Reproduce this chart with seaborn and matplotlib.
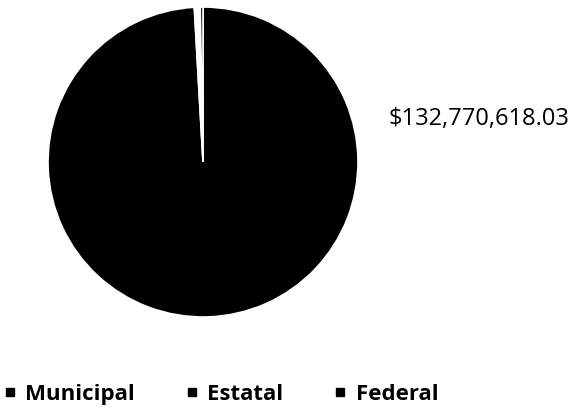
import matplotlib
matplotlib.use("Agg")
import matplotlib.pyplot as plt
import seaborn as sns
from matplotlib.lines import Line2D

# Data
categories = ["Municipal", "Estatal", "Federal"]
amounts = [132770618.03, 820000.0, 380000.0]
slice_colors = ["black", "white", "black"]
label_text = "$132,770,618.03"

sns.set_theme(style="white")
plt.rcParams["font.family"] = ["Open Sans", "DejaVu Sans"]
plt.rcParams["text.color"] = "black"

fig = plt.figure(figsize=(5.79, 4.14), dpi=100)
ax = fig.add_axes([48 / 579, 1 - 318 / 414, 310 / 579, 310 / 414])

ax.pie(amounts, colors=slice_colors, startangle=90, counterclock=False,
       wedgeprops={"edgecolor": "white", "linewidth": 1.2})
ax.set_xlim(-1, 1)
ax.set_ylim(-1, 1)
ax.set_aspect("equal")
ax.axis("off")

# data label for the big slice
fig.text(388 / 579, 1 - 119 / 414, label_text, fontsize=17, color="black",
         ha="left", va="center")

# legend
handles = [Line2D([0], [0], marker="s", color="black", linestyle="none", markersize=5.5)
           for _ in categories]
leg = fig.legend(handles, categories, loc="center left", ncol=3,
                 bbox_to_anchor=(-0.006, 1 - 395 / 414), frameon=False,
                 prop={"weight": "bold", "size": 16},
                 handlelength=0.6, handletextpad=0.4, columnspacing=2.25,
                 borderaxespad=0, borderpad=0.3)
for t in leg.get_texts():
    t.set_color("black")

fig.savefig("out.png", dpi=100, facecolor="white")
